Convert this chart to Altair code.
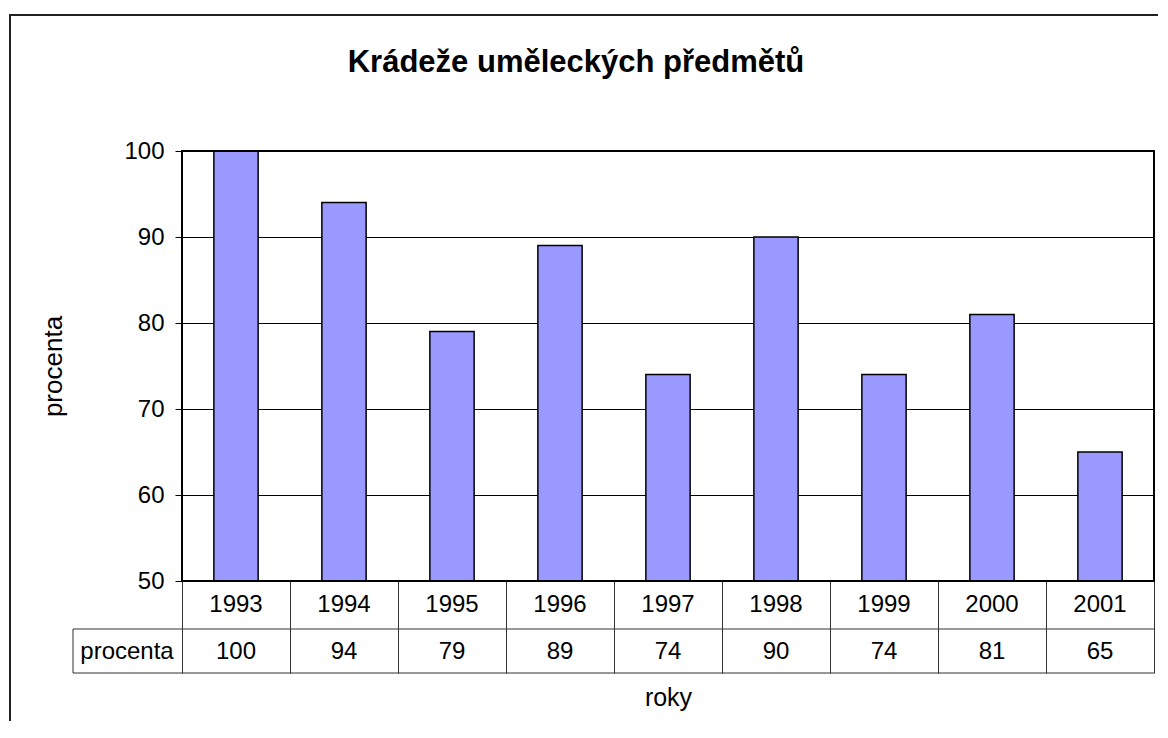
import altair as alt
import pandas as pd

title_text = "Krádeže uměleckých předmětů"
series_name = "procenta"
x_title = "roky"
years = ["1993", "1994", "1995", "1996", "1997", "1998", "1999", "2000", "2001"]
values = [100, 94, 79, 89, 74, 90, 74, 81, 65]
y_ticks = [50, 60, 70, 80, 90, 100]

FONT = "Liberation Sans"
W, H = 972, 430

df = pd.DataFrame({"Rok": years, "Procenta": values})
one = pd.DataFrame({"k": [0]})

xscale = alt.Scale(paddingInner=0, paddingOuter=0)
xaxis = alt.Axis(
    labels=False, domain=False, grid=False, ticks=True, tickBand="extent",
    tickSize=92, tickColor="#333333", tickWidth=1,
    title=x_title, titleFont=FONT, titleFontSize=25, titleFontWeight="normal",
    titleColor="black", titleY=124, titleBaseline="alphabetic",
)
xenc = alt.X("Rok:N", sort=None, scale=xscale, axis=xaxis)

yaxis = alt.Axis(
    values=y_ticks, domain=False, grid=True, gridColor="black", gridWidth=1,
    ticks=True, tickSize=7, tickColor="black", tickWidth=1,
    labelFont=FONT, labelFontSize=24, labelColor="black", labelPadding=11,
    labelBaseline="middle",
    title=series_name, titleFont=FONT, titleFontSize=26, titleFontWeight="normal",
    titleColor="black", titleX=-129, titleY=H / 2, titleAlign="center",
    titleBaseline="middle",
)
yenc = alt.Y("Procenta:Q", scale=alt.Scale(domain=[50, 100], nice=False, zero=False), axis=yaxis)

border = alt.Chart(one).mark_rect(fill="white", fillOpacity=0, stroke="#222222", strokeWidth=2).encode(
    x=alt.value(-172), x2=alt.value(W + 100), y=alt.value(-136), y2=alt.value(H + 400)
)

bars = alt.Chart(df).mark_bar(
    color="#9999FF", stroke="black", strokeWidth=1.5, width=alt.RelativeBandSize(0.41)
).encode(x=xenc, y=yenc, y2=alt.datum(50))

plot_frame = alt.Chart(one).mark_rect(fill="white", fillOpacity=0, stroke="black", strokeWidth=2).encode(
    x=alt.value(0), x2=alt.value(W), y=alt.value(0), y2=alt.value(H)
)

year_text = alt.Chart(df).mark_text(font=FONT, fontSize=24, color="black", baseline="middle").encode(
    x=xenc, y=alt.value(454), text="Rok:N"
)
val_text = alt.Chart(df).mark_text(font=FONT, fontSize=24, color="black", baseline="middle").encode(
    x=xenc, y=alt.value(501), text="Procenta:Q"
)

hline1 = alt.Chart(one).mark_rule(color="#333333", strokeWidth=1).encode(
    x=alt.value(-109), x2=alt.value(W), y=alt.value(478)
)
hline2 = alt.Chart(one).mark_rule(color="#333333", strokeWidth=1).encode(
    x=alt.value(-109), x2=alt.value(W), y=alt.value(522)
)
vline = alt.Chart(one).mark_rule(color="#333333", strokeWidth=1).encode(
    x=alt.value(-109), y=alt.value(478), y2=alt.value(522)
)
label_cell = alt.Chart(one).mark_text(font=FONT, fontSize=24, color="black", baseline="middle", align="center").encode(
    x=alt.value(-55), y=alt.value(501), text=alt.value(series_name)
)
title_mark = alt.Chart(one).mark_text(font=FONT, fontSize=31, fontWeight="bold", color="black",
                                      baseline="alphabetic", align="center").encode(
    x=alt.value(394), y=alt.value(-79), text=alt.value(title_text)
)

chart = alt.layer(
    border, bars, plot_frame, year_text, val_text, hline1, hline2, vline, label_cell, title_mark
).properties(
    width=W, height=H,
    padding={"left": 174, "top": 143, "right": 4, "bottom": 140},
    autosize="none",
).configure_view(
    stroke=None
).configure(background="white")

chart.save("out.html", embed_options={"renderer": "svg", "actions": False})
